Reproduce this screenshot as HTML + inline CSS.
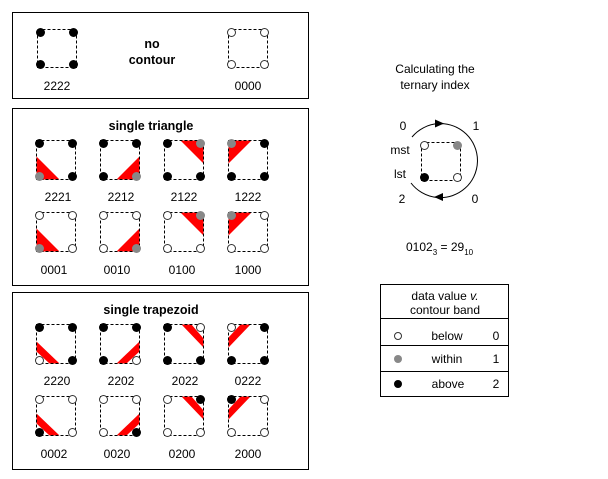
<!DOCTYPE html>
<html><head><meta charset="utf-8"><style>
html,body{margin:0;padding:0;background:#fff;}
svg{display:block;font-family:"Liberation Sans",Arial,sans-serif;}
.sq{fill:none;stroke:#000;stroke-width:1;stroke-dasharray:3,2;}
.r{fill:#f00;stroke:none;}
.d0{fill:#fff;stroke:#333;stroke-width:1;}
.d1{fill:#888;}
.d2{fill:#000;}
text{font-size:12px;fill:#000;}
.t{font-weight:bold;font-size:12.5px;}
</style></head><body>
<svg width="608" height="479" viewBox="0 0 608 479" xmlns="http://www.w3.org/2000/svg">
<rect x="0" y="0" width="608" height="479" fill="#fff"/>
<!-- boxes -->
<rect x="12.5" y="12.5" width="296" height="86" fill="none" stroke="#000"/>
<rect x="12.5" y="108.5" width="296" height="177" fill="none" stroke="#000"/>
<rect x="12.5" y="292.5" width="296" height="177" fill="none" stroke="#000"/>

<!-- top box -->
<g transform="translate(37.5,29.5)"><rect class="sq" width="39" height="38"/>
<circle class="d2" cx="3" cy="3" r="4.5"/><circle class="d2" cx="36" cy="3" r="4.5"/><circle class="d2" cx="36" cy="35" r="4.5"/><circle class="d2" cx="3" cy="35" r="4.5"/></g>
<text x="57" y="90" text-anchor="middle">2222</text>
<text class="t" x="152" y="48" text-anchor="middle">no</text>
<text class="t" x="152" y="64" text-anchor="middle">contour</text>
<g transform="translate(228.5,29.5)"><rect class="sq" width="39" height="38"/>
<circle class="d0" cx="3" cy="3" r="4"/><circle class="d0" cx="36" cy="3" r="4"/><circle class="d0" cx="36" cy="35" r="4"/><circle class="d0" cx="3" cy="35" r="4"/></g>
<text x="248" y="90" text-anchor="middle">0000</text>

<!-- single triangle -->
<text class="t" x="151" y="130" text-anchor="middle">single triangle</text>
<!-- row1 -->
<g transform="translate(36.5,140.5)"><polygon class="r" points="0,16 0,39 23,39"/><rect class="sq" width="39" height="39"/>
<circle class="d2" cx="3" cy="3" r="4.5"/><circle class="d2" cx="36" cy="3" r="4.5"/><circle class="d2" cx="36" cy="36" r="4.5"/><circle class="d1" cx="3" cy="36" r="4.5"/></g>
<g transform="translate(100.5,140.5)"><polygon class="r" points="39,16 39,39 16,39"/><rect class="sq" width="39" height="39"/>
<circle class="d2" cx="3" cy="3" r="4.5"/><circle class="d2" cx="36" cy="3" r="4.5"/><circle class="d1" cx="36" cy="36" r="4.5"/><circle class="d2" cx="3" cy="36" r="4.5"/></g>
<g transform="translate(164.5,140.5)"><polygon class="r" points="16,0 39,0 39,23"/><rect class="sq" width="39" height="39"/>
<circle class="d2" cx="3" cy="3" r="4.5"/><circle class="d1" cx="36" cy="3" r="4.5"/><circle class="d2" cx="36" cy="36" r="4.5"/><circle class="d2" cx="3" cy="36" r="4.5"/></g>
<g transform="translate(228.5,140.5)"><polygon class="r" points="0,0 23,0 0,23"/><rect class="sq" width="39" height="39"/>
<circle class="d1" cx="3" cy="3" r="4.5"/><circle class="d2" cx="36" cy="3" r="4.5"/><circle class="d2" cx="36" cy="36" r="4.5"/><circle class="d2" cx="3" cy="36" r="4.5"/></g>
<text x="58" y="201" text-anchor="middle">2221</text>
<text x="121" y="201" text-anchor="middle">2212</text>
<text x="184" y="201" text-anchor="middle">2122</text>
<text x="248" y="201" text-anchor="middle">1222</text>
<!-- row2 -->
<g transform="translate(36.5,212.5)"><polygon class="r" points="0,16 0,39 23,39"/><rect class="sq" width="39" height="39"/>
<circle class="d0" cx="3" cy="3" r="4"/><circle class="d0" cx="36" cy="3" r="4"/><circle class="d0" cx="36" cy="36" r="4"/><circle class="d1" cx="3" cy="36" r="4.5"/></g>
<g transform="translate(100.5,212.5)"><polygon class="r" points="39,16 39,39 16,39"/><rect class="sq" width="39" height="39"/>
<circle class="d0" cx="3" cy="3" r="4"/><circle class="d0" cx="36" cy="3" r="4"/><circle class="d1" cx="36" cy="36" r="4.5"/><circle class="d0" cx="3" cy="36" r="4"/></g>
<g transform="translate(164.5,212.5)"><polygon class="r" points="16,0 39,0 39,23"/><rect class="sq" width="39" height="39"/>
<circle class="d0" cx="3" cy="3" r="4"/><circle class="d1" cx="36" cy="3" r="4.5"/><circle class="d0" cx="36" cy="36" r="4"/><circle class="d0" cx="3" cy="36" r="4"/></g>
<g transform="translate(228.5,212.5)"><polygon class="r" points="0,0 23,0 0,23"/><rect class="sq" width="39" height="39"/>
<circle class="d1" cx="3" cy="3" r="4.5"/><circle class="d0" cx="36" cy="3" r="4"/><circle class="d0" cx="36" cy="36" r="4"/><circle class="d0" cx="3" cy="36" r="4"/></g>
<text x="54" y="274" text-anchor="middle">0001</text>
<text x="117" y="274" text-anchor="middle">0010</text>
<text x="182" y="274" text-anchor="middle">0100</text>
<text x="248" y="274" text-anchor="middle">1000</text>

<!-- single trapezoid -->
<text class="t" x="151" y="314" text-anchor="middle">single trapezoid</text>
<g transform="translate(36.5,324.5)"><polygon class="r" points="0,17 23,39 13,39 0,27"/><rect class="sq" width="39" height="39"/>
<circle class="d2" cx="3" cy="3" r="4.5"/><circle class="d2" cx="36" cy="3" r="4.5"/><circle class="d2" cx="36" cy="36" r="4.5"/><circle class="d0" cx="3" cy="36" r="4"/></g>
<g transform="translate(100.5,324.5)"><polygon class="r" points="39,17 16,39 26,39 39,27"/><rect class="sq" width="39" height="39"/>
<circle class="d2" cx="3" cy="3" r="4.5"/><circle class="d2" cx="36" cy="3" r="4.5"/><circle class="d0" cx="36" cy="36" r="4"/><circle class="d2" cx="3" cy="36" r="4.5"/></g>
<g transform="translate(164.5,324.5)"><polygon class="r" points="17,0 27,0 39,14 39,23"/><rect class="sq" width="39" height="39"/>
<circle class="d2" cx="3" cy="3" r="4.5"/><circle class="d0" cx="36" cy="3" r="4"/><circle class="d2" cx="36" cy="36" r="4.5"/><circle class="d2" cx="3" cy="36" r="4.5"/></g>
<g transform="translate(228.5,324.5)"><polygon class="r" points="12,0 22,0 0,23 0,13"/><rect class="sq" width="39" height="39"/>
<circle class="d0" cx="3" cy="3" r="4"/><circle class="d2" cx="36" cy="3" r="4.5"/><circle class="d2" cx="36" cy="36" r="4.5"/><circle class="d2" cx="3" cy="36" r="4.5"/></g>
<text x="57" y="385" text-anchor="middle">2220</text>
<text x="121" y="385" text-anchor="middle">2202</text>
<text x="185" y="385" text-anchor="middle">2022</text>
<text x="248" y="385" text-anchor="middle">0222</text>
<g transform="translate(36.5,396.5)"><polygon class="r" points="0,17 23,39 13,39 0,27"/><rect class="sq" width="39" height="39"/>
<circle class="d0" cx="3" cy="3" r="4"/><circle class="d0" cx="36" cy="3" r="4"/><circle class="d0" cx="36" cy="36" r="4"/><circle class="d2" cx="3" cy="36" r="4.5"/></g>
<g transform="translate(100.5,396.5)"><polygon class="r" points="39,17 16,39 26,39 39,27"/><rect class="sq" width="39" height="39"/>
<circle class="d0" cx="3" cy="3" r="4"/><circle class="d0" cx="36" cy="3" r="4"/><circle class="d2" cx="36" cy="36" r="4.5"/><circle class="d0" cx="3" cy="36" r="4"/></g>
<g transform="translate(164.5,396.5)"><polygon class="r" points="17,0 27,0 39,14 39,23"/><rect class="sq" width="39" height="39"/>
<circle class="d0" cx="3" cy="3" r="4"/><circle class="d2" cx="36" cy="3" r="4.5"/><circle class="d0" cx="36" cy="36" r="4"/><circle class="d0" cx="3" cy="36" r="4"/></g>
<g transform="translate(228.5,396.5)"><polygon class="r" points="12,0 22,0 0,23 0,13"/><rect class="sq" width="39" height="39"/>
<circle class="d2" cx="3" cy="3" r="4.5"/><circle class="d0" cx="36" cy="3" r="4"/><circle class="d0" cx="36" cy="36" r="4"/><circle class="d0" cx="3" cy="36" r="4"/></g>
<text x="54" y="458" text-anchor="middle">0002</text>
<text x="117" y="458" text-anchor="middle">0020</text>
<text x="182" y="458" text-anchor="middle">0200</text>
<text x="248" y="458" text-anchor="middle">2000</text>

<!-- ternary index -->
<text x="435" y="73" text-anchor="middle">Calculating the</text>
<text x="435" y="89" text-anchor="middle">ternary index</text>
<path d="M412,137 A37,37 0 1 1 411,183" fill="none" stroke="#000" stroke-width="1"/>
<polygon points="444,123.5 435,119.5 435,127.5" fill="#000"/>
<polygon points="434,197 443,193 443,201" fill="#000"/>
<g transform="translate(421.5,142.5)"><rect class="sq" width="39" height="38"/>
<circle class="d0" cx="3" cy="3" r="4"/><circle class="d1" cx="36" cy="3" r="4.5"/><circle class="d0" cx="36" cy="35" r="4"/><circle class="d2" cx="3" cy="35" r="4.5"/></g>
<text x="403" y="130" text-anchor="middle">0</text>
<text x="476" y="130" text-anchor="middle">1</text>
<text x="400" y="154" text-anchor="middle">mst</text>
<text x="400" y="178" text-anchor="middle">lst</text>
<text x="402" y="203" text-anchor="middle">2</text>
<text x="475" y="203" text-anchor="middle">0</text>
<text x="406" y="251">0102<tspan font-size="8" dy="4">3</tspan><tspan dy="-4"> = 29</tspan><tspan font-size="8" dy="4">10</tspan></text>

<!-- table -->
<rect x="380.5" y="284.5" width="128" height="112" fill="none" stroke="#000"/>
<line x1="380" y1="318.5" x2="509" y2="318.5" stroke="#000"/>
<line x1="380" y1="345.5" x2="509" y2="345.5" stroke="#000"/>
<line x1="380" y1="371.5" x2="509" y2="371.5" stroke="#000"/>
<text x="445" y="300" text-anchor="middle">data value <tspan font-style="italic">v.</tspan></text>
<text x="445" y="314" text-anchor="middle">contour band</text>
<circle class="d0" cx="398" cy="336" r="3.5"/>
<text x="447" y="340" text-anchor="middle">below</text>
<text x="496" y="340" text-anchor="middle">0</text>
<circle class="d1" cx="398" cy="359" r="4"/>
<text x="447" y="363" text-anchor="middle">within</text>
<text x="496" y="363" text-anchor="middle">1</text>
<circle class="d2" cx="398" cy="384" r="4"/>
<text x="448" y="388" text-anchor="middle">above</text>
<text x="496" y="388" text-anchor="middle">2</text>
</svg>
</body></html>
